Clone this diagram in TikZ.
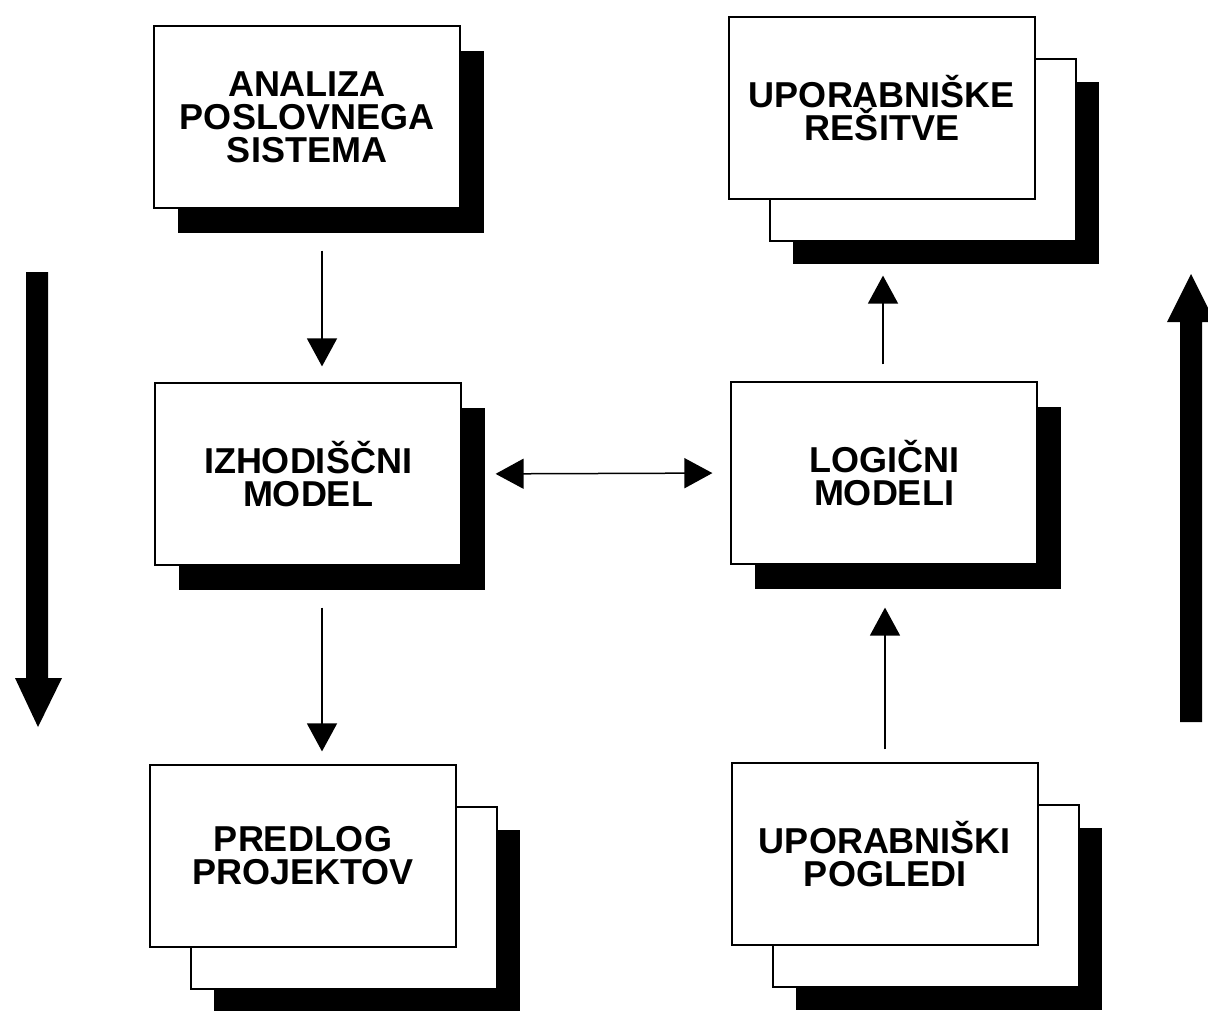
\documentclass[tikz,border=0pt]{standalone}
\usepackage{fontspec}
\setmainfont{Liberation Sans}
\usetikzlibrary{arrows.meta,shadows}

\tikzset{
    sheet/.style={draw, fill=white, line width=1.2pt, minimum width=306pt, minimum height=182pt,
        align=center, font=\fontsize{36}{33}\selectfont\bfseries},
    flat/.style={drop shadow={shadow xshift=24pt, shadow yshift=-25pt, fill=black, opacity=1}},
    pile/.style={drop shadow={shadow xshift=64pt, shadow yshift=-65pt, fill=black, opacity=1},
        copy shadow={shadow xshift=41pt, shadow yshift=-42pt, draw, fill=white, line width=1.2pt}},
    link/.style={line width=1.5pt, -{Triangle[length=28pt, width=30pt]}},
    twoway/.style={line width=1.5pt, {Triangle[length=28pt, width=30pt]}-{Triangle[length=28pt, width=30pt]}},
}

\begin{document}
\begin{tikzpicture}[x=1pt, y=-1pt]
    \useasboundingbox (0,0) rectangle (1208,1010);

    \node [sheet, flat] (analiza) at (307,117) {ANALIZA\\POSLOVNEGA\\SISTEMA};
    \node [sheet, pile] (resitve) at (882,108) {UPORABNIŠKE\\REŠITVE};
    \node [sheet, flat] (izhod)   at (308,474) {IZHODIŠČNI\\MODEL};
    \node [sheet, flat] (logicni) at (884,473) {LOGIČNI\\MODELI};
    \node [sheet, pile] (predlog) at (303,856) {PREDLOG\\PROJEKTOV};
    \node [sheet, pile] (pogledi) at (885,854) {UPORABNIŠKI\\POGLEDI};

    \draw [link, shorten <=42pt, shorten >=16pt] ([xshift=15pt]analiza.south) -- ([xshift=14pt]izhod.north);
    \draw [link, shorten <=42pt, shorten >=13pt] ([xshift=14pt]izhod.south) -- ([xshift=19pt]predlog.north);
    \draw [link, shorten <=17pt, shorten >=76pt] ([xshift=-1pt]logicni.north) -- ([xshift=1pt]resitve.south);
    \draw [link, shorten <=13pt, shorten >=43pt] (pogledi.north) -- ([xshift=1pt]logicni.south);
    \draw [twoway, shorten <=34pt, shorten >=18pt] (izhod.east) -- (logicni.west);

    % wide arrows at the sides
    \fill (26,272) -- (48,272) -- (48,678) -- (62,678) -- (38,727) -- (15,678) -- (26,678) -- cycle;
    \fill (1180,722) -- (1202,722) -- (1202,322) -- (1215,322) -- (1191,274) -- (1167,322) -- (1180,322) -- cycle;

\end{tikzpicture}
\end{document}
